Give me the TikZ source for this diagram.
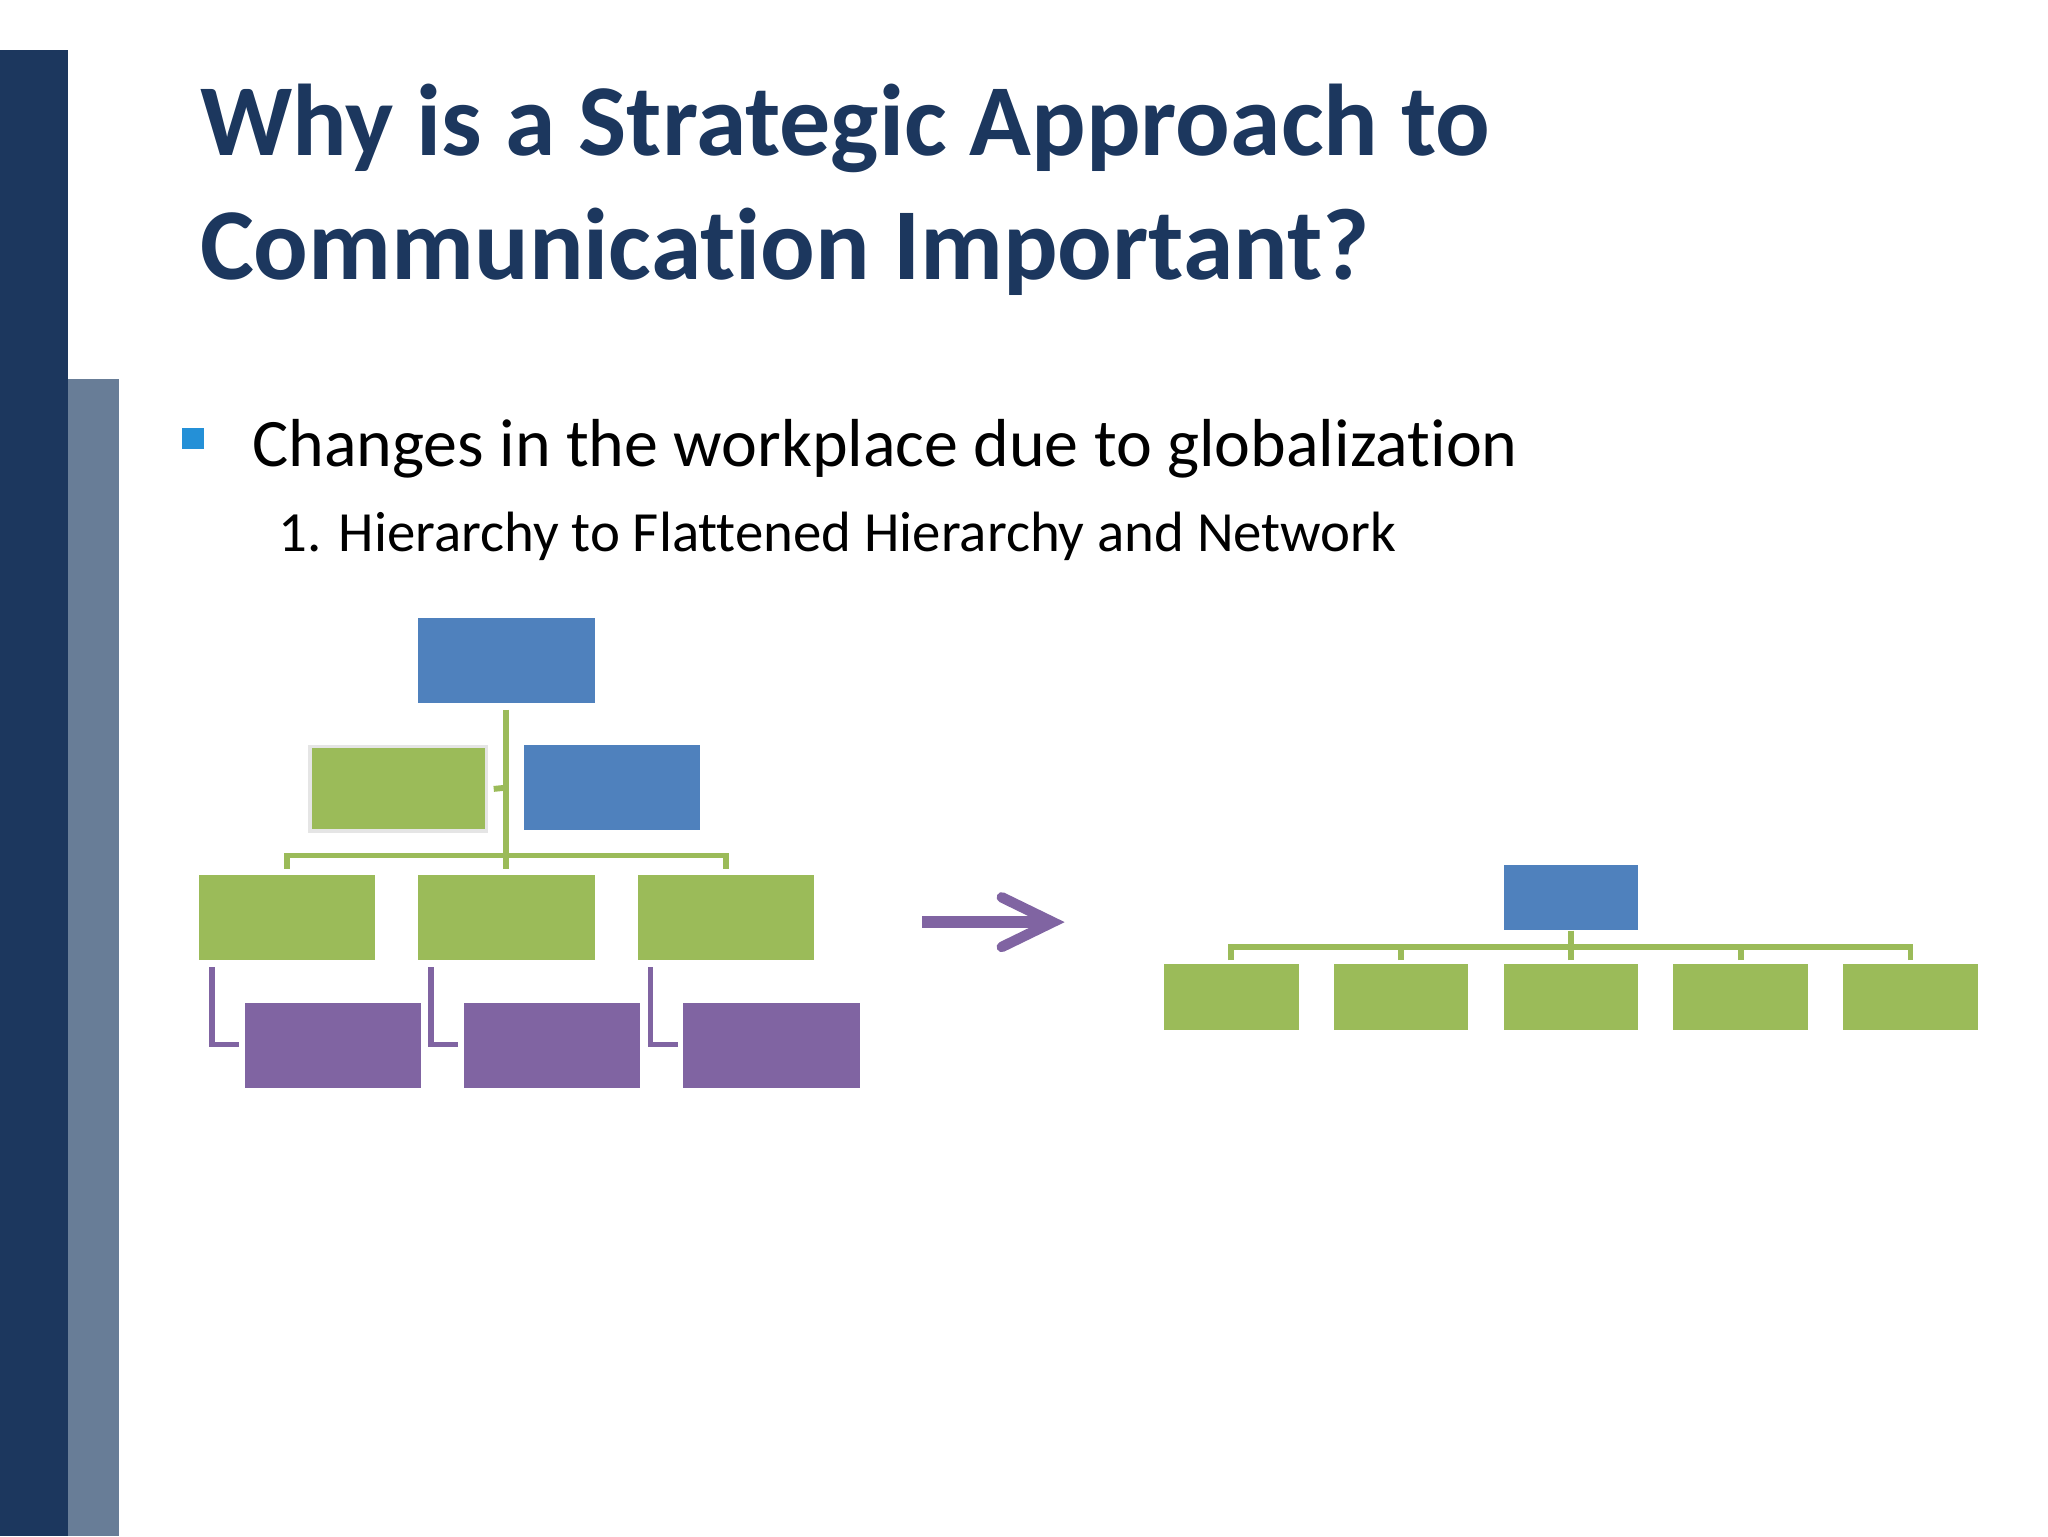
\documentclass[tikz,border=0pt]{standalone}
\usepackage{fontspec}
\setmainfont{Carlito}[Ligatures={NoCommon}]
\begin{document}
\begin{tikzpicture}[x=1pt,y=-1pt,
  bx/.style={draw=none,minimum width=135pt,minimum height=65pt,inner sep=0pt,anchor=north west},
  sbx/.style={draw=none,minimum width=103pt,minimum height=50pt,inner sep=0pt,anchor=north west},
  gl/.style={draw=cgreen,line width=4.5pt},
  pl/.style={draw=cpurple,line width=4.5pt}]
\definecolor{cblue}{HTML}{4F81BD}
\definecolor{cgreen}{HTML}{9BBB59}
\definecolor{cpurple}{HTML}{8064A2}
\definecolor{navy}{HTML}{1C375E}
\definecolor{slate}{HTML}{687D97}
\useasboundingbox (0,0) rectangle (1568,1176);
\fill[white] (0,0) rectangle (1568,1176);
\fill[navy] (0,38) rectangle (52,1176);
\fill[slate] (52,290) rectangle (91,1176);
\node[anchor=west,text=navy,font=\fontsize{78}{95}\selectfont\bfseries,align=left,inner sep=0pt] (title) at (153,145) {Why is a Strategic Approach to\\Communication Important?};
\fill[cyan!70!blue!90] (139,328) rectangle (156,344);
\node[anchor=base west,inner sep=0pt,font=\fontsize{52}{56}\selectfont] (b1) at (193,357) {Changes in the workplace due to globalization};
\node[anchor=base west,inner sep=0pt,font=\fontsize{43.5}{46}\selectfont] (b2) at (213,422) {1. Hierarchy to Flattened Hierarchy and Network};
% left hierarchy
\node[bx,fill=cblue] (top) at (320,473) {};
\node[bx,fill=cgreen,draw=black!10,line width=3pt] (asst) at (236,570) {};
\node[bx,fill=cblue] (mid) at (401,570) {};
\foreach \i/\x in {1/152,2/320,3/488}{
  \node[bx,fill=cgreen] (g\i) at (\x,670) {};
  \node[bx,fill=cpurple] (p\i) at (\x+35,768) {};
  \draw[pl] ([xshift=10pt,yshift=-5pt]g\i.south west) |- ([xshift=-4pt,yshift=1pt]p\i.west);
}
\draw[gl] ([yshift=-5pt]top.south) -- ([yshift=5pt]g2.north);
\draw[gl] (asst.east) ++(4pt,0) -- (388,603);
\draw[gl] ([yshift=5pt]g1.north) |- (388,655) -| ([yshift=5pt]g3.north);
% arrow
\coordinate (a1) at (706,706);
\coordinate (a2) at (806,706);
\draw[cpurple,line width=9pt] (a1) -- (798,706);
\draw[cpurple,line width=8pt,line cap=round,line join=miter] (767,687) -- (a2) -- (767,725);
% right flat
\node[sbx,fill=cblue] (rt) at (1151,662) {};
\foreach \i/\x in {1/891,2/1021,3/1151,4/1281,5/1411}{
  \node[sbx,fill=cgreen] (r\i) at (\x,738) {};
  \draw[gl] (r\i.north) ++(0,3pt) -- ++(0,12pt);
}
\draw[gl] ([yshift=13pt]r1.north) -- ([yshift=13pt]r5.north);
\draw[gl] (rt.south) -- ([yshift=13pt]r3.north);
\end{tikzpicture}
\end{document}
